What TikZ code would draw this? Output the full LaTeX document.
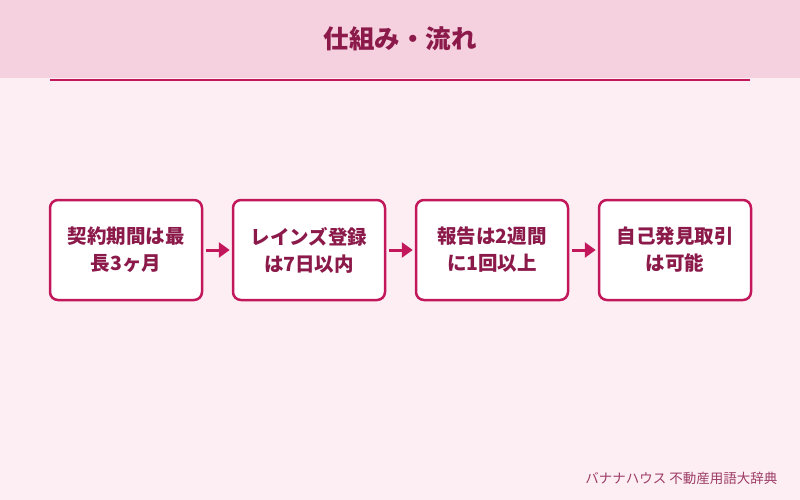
\documentclass[tikz,border=0pt]{standalone}
\usepackage{fontspec}
\newfontfamily\jp{Noto Sans CJK JP}
\usetikzlibrary{arrows.meta}
\definecolor{bg}{HTML}{FDEEF3}
\definecolor{band}{HTML}{F5D0DE}
\definecolor{accent}{HTML}{C2185B}
\definecolor{txt}{HTML}{8B1A4A}
\begin{document}
\begin{tikzpicture}[x=1pt,y=-1pt,
  stepbox/.style={draw=accent,line width=2.5pt,fill=white,rounded corners=8pt,minimum width=152pt,minimum height=100pt,align=center,font=\jp\bfseries\fontsize{19.5}{27}\selectfont,text=txt,inner sep=0pt},
  flow/.style={accent,line width=3pt,shorten <=3pt,shorten >=2pt,-{Triangle[length=11pt,width=15pt]}}]
\useasboundingbox (0,0) rectangle (800,500);
\fill[bg] (0,0) rectangle (800,500);
\fill[band] (0,0) rectangle (800,78);
\draw[accent,line width=2pt] (50,80.5) -- (750,80.5);
\node[font=\jp\bfseries\fontsize{25.5}{30}\selectfont,text=txt] (title) at (400,39) {仕組み・流れ};
\node[stepbox] (b1) at (126,250) {契約期間は最\\長3ヶ月};
\node[stepbox] (b2) at (309,250) {レインズ登録\\は7日以内};
\node[stepbox] (b3) at (492,250) {報告は2週間\\に1回以上};
\node[stepbox] (b4) at (675,250) {自己発見取引\\は可能};
\draw[flow] (b1) -- (b2);
\draw[flow] (b2) -- (b3);
\draw[flow] (b3) -- (b4);
\node[anchor=east,font=\jp\fontsize{13.5}{16}\selectfont,text=txt!85] (foot) at (781,478) {バナナハウス 不動産用語大辞典};
\end{tikzpicture}
\end{document}
